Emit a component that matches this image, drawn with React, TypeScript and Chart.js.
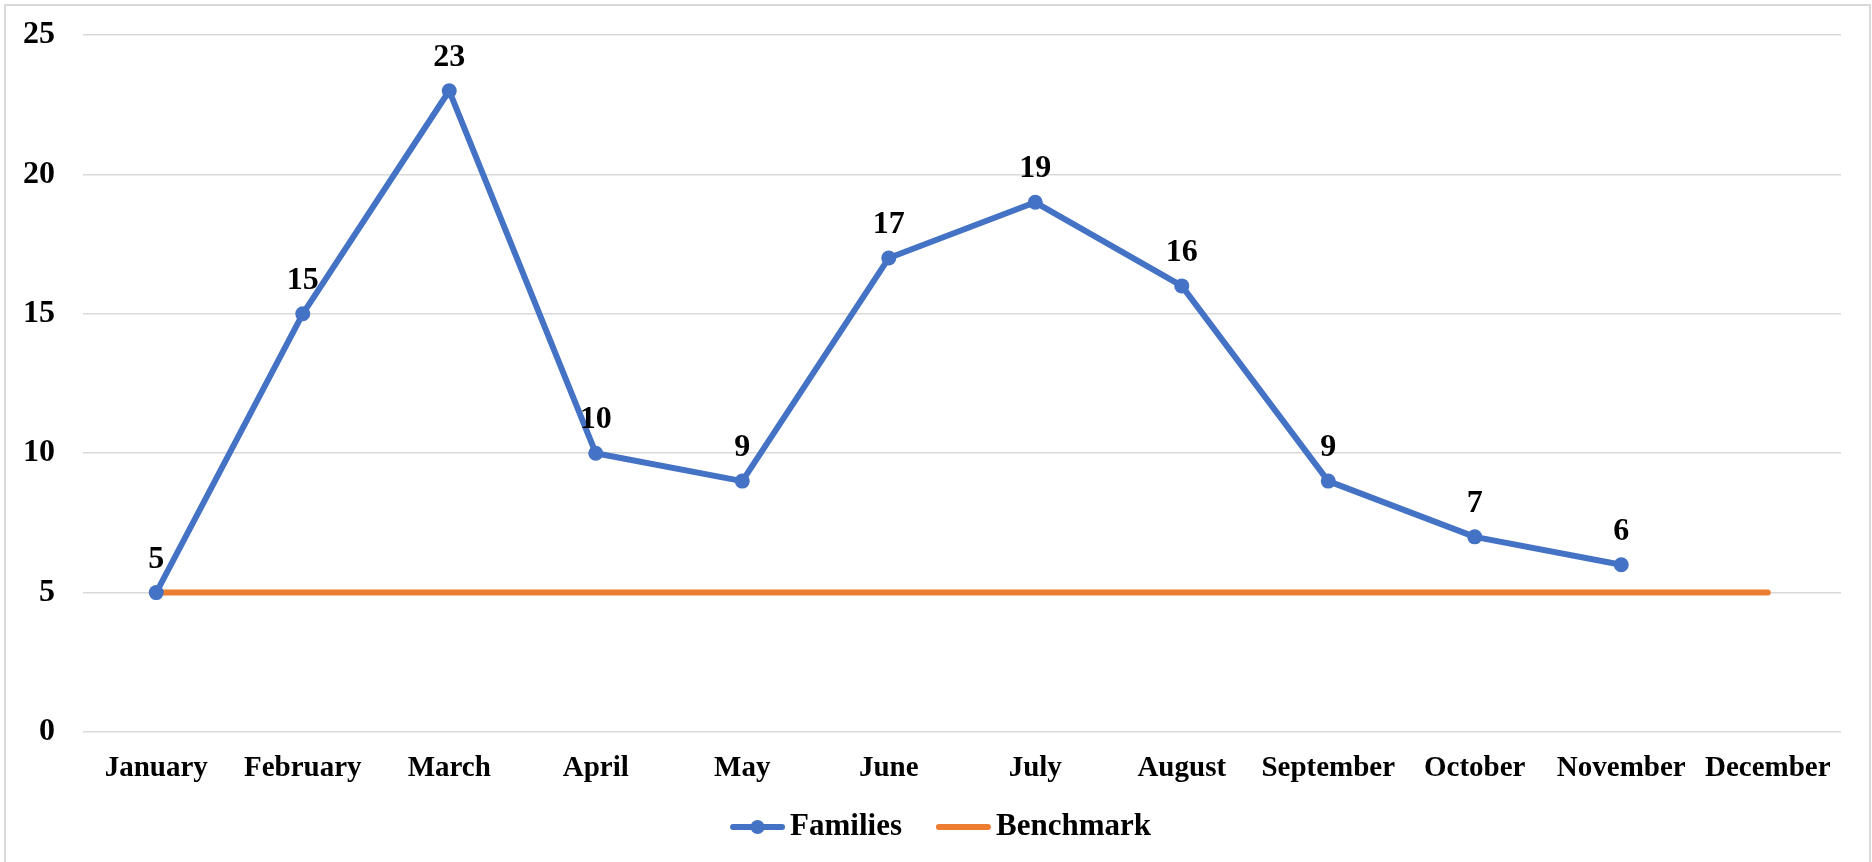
import React, { useEffect, useRef } from "react";
import { Chart, registerables } from "chart.js";

Chart.register(...registerables);

const months = ["January", "February", "March", "April", "May", "June", "July", "August", "September", "October", "November", "December"];
const families: (number | null)[] = [5, 15, 23, 10, 9, 17, 19, 16, 9, 7, 6, null];
const benchmark: number[] = [5, 5, 5, 5, 5, 5, 5, 5, 5, 5, 5, 5];
const yTicks = [0, 5, 10, 15, 20, 25];

const BLUE = "#4472C4";
const ORANGE = "#ED7D31";
const GRID = "#d9d9d9";
const FONT_FAMILY = "'Liberation Serif', 'Times New Roman', serif";
const X_FONT_SIZE = 29;
const Y_FONT_SIZE = 32;
const LABEL_FONT_SIZE = 32;
const LEGEND_FONT_SIZE = 31;

const dataLabelPlugin = {
  id: "dataLabels",
  afterDatasetsDraw(chart: any) {
    const ctx = chart.ctx;
    const meta = chart.getDatasetMeta(0);
    const values = chart.data.datasets[0].data;
    ctx.save();
    ctx.font = `bold ${LABEL_FONT_SIZE}px ${FONT_FAMILY}`;
    ctx.fillStyle = "#000";
    ctx.textAlign = "center";
    ctx.textBaseline = "alphabetic";
    meta.data.forEach((pt: any, i: number) => {
      const v = values[i];
      if (v === null || v === undefined) return;
      ctx.fillText(String(v), pt.x, pt.y - 25);
    });
    ctx.restore();
  },
};

const legendPlugin = {
  id: "customLegend",
  afterDraw(chart: any) {
    const ctx = chart.ctx;
    ctx.save();
    ctx.font = `bold ${LEGEND_FONT_SIZE}px ${FONT_FAMILY}`;
    const items = chart.data.datasets.map((ds: any) => ({
      label: ds.label,
      color: ds.borderColor,
      marker: ds.pointRadius > 0,
      w: ctx.measureText(ds.label).width,
    }));
    const lineLen = 55;
    const gapLineText = 5;
    const gapItems = 34;
    let total = 0;
    items.forEach((it: any, i: number) => {
      total += lineLen + gapLineText + it.w + (i < items.length - 1 ? gapItems : 0);
    });
    const center = (729 + 1152) / 2;
    let x = center - total / 2;
    const cy = 827;
    items.forEach((it: any) => {
      ctx.strokeStyle = it.color;
      ctx.lineWidth = 6;
      ctx.lineCap = "round";
      ctx.beginPath();
      ctx.moveTo(x + 3, cy);
      ctx.lineTo(x + lineLen - 3, cy);
      ctx.stroke();
      if (it.marker) {
        ctx.fillStyle = it.color;
        ctx.beginPath();
        ctx.arc(x + lineLen / 2, cy, 7, 0, Math.PI * 2);
        ctx.fill();
      }
      x += lineLen + gapLineText;
      ctx.fillStyle = "#000";
      ctx.textAlign = "left";
      ctx.textBaseline = "middle";
      ctx.fillText(it.label, x, cy);
      x += it.w + gapItems;
    });
    ctx.restore();
  },
};

export default function App() {
  const canvasRef = useRef<HTMLCanvasElement | null>(null);

  useEffect(() => {
    if (!canvasRef.current) return;
    const chart = new Chart(canvasRef.current, {
      type: "line",
      data: {
        labels: months,
        datasets: [
          {
            label: "Families",
            data: families,
            borderColor: BLUE,
            backgroundColor: BLUE,
            borderWidth: 6,
            pointRadius: 7.5,
            pointBackgroundColor: BLUE,
            pointBorderColor: BLUE,
            pointBorderWidth: 0,
            borderCapStyle: "round",
            borderJoinStyle: "round",
            tension: 0,
            spanGaps: false,
          },
          {
            label: "Benchmark",
            data: benchmark,
            borderColor: ORANGE,
            backgroundColor: ORANGE,
            borderWidth: 6,
            pointRadius: 0,
            borderCapStyle: "round",
            tension: 0,
          },
        ],
      },
      options: {
        animation: false,
        responsive: false,
        maintainAspectRatio: false,
        layout: { padding: { left: 0, right: 31, top: 35, bottom: 0 } },
        plugins: {
          legend: { display: false },
          tooltip: { enabled: false },
        },
        scales: {
          x: {
            offset: true,
            grid: { display: false, drawTicks: false },
            border: { display: false },
            ticks: {
              color: "#000",
              font: { family: FONT_FAMILY, size: X_FONT_SIZE, weight: "bold" },
              padding: 19,
              maxRotation: 0,
              autoSkip: false,
            },
            afterFit(scale: any) {
              scale.height = 130;
              scale.paddingLeft = 0;
              scale.paddingRight = 0;
            },
          },
          y: {
            min: 0,
            max: 25,
            grid: { color: GRID, lineWidth: 1.5, drawTicks: false },
            border: { display: false },
            ticks: {
              stepSize: 5,
              color: "#000",
              font: { family: FONT_FAMILY, size: Y_FONT_SIZE, weight: "bold" },
              padding: 28,
              callback: (v: any) => (yTicks.includes(Number(v)) ? String(v) : ""),
            },
            afterFit(scale: any) {
              scale.width = 83;
              scale.paddingTop = 0;
              scale.paddingBottom = 0;
            },
          },
        },
      },
      plugins: [dataLabelPlugin, legendPlugin],
    } as any);
    return () => chart.destroy();
  }, []);

  return (
    <div style={{ position: "fixed", left: 0, top: 0, width: 1872, height: 862, background: "#fff", overflow: "hidden" }}>
      <canvas ref={canvasRef} width={1872} height={862} style={{ position: "absolute", left: 0, top: 0, width: 1872, height: 862 }} />
      <div
        style={{
          position: "absolute",
          left: 4,
          top: 4,
          width: 1863,
          height: 880,
          border: `2px solid ${GRID}`,
          pointerEvents: "none",
        }}
      />
    </div>
  );
}
